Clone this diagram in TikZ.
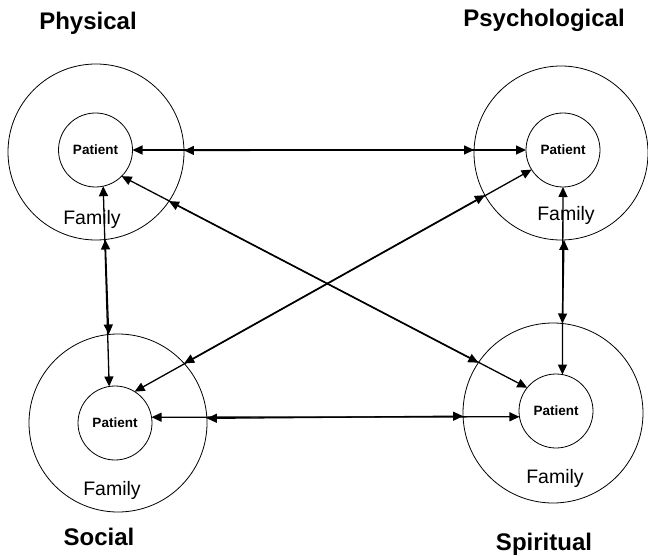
\documentclass[tikz,border=0pt]{standalone}
\usepackage{fontspec}
\setmainfont{Liberation Sans}
\usetikzlibrary{arrows.meta}
\tikzset{
  ring/.style={draw,circle,line width=0.8pt,inner sep=0pt,outer sep=0pt},
  core/.style={draw,circle,line width=0.8pt,minimum size=74pt,inner sep=0pt,outer sep=0pt,font=\bfseries\fontsize{13.5}{15}\selectfont},
  headlbl/.style={anchor=base,font=\bfseries\fontsize{24}{28}\selectfont},
  fam/.style={anchor=base,font=\fontsize{19.5}{22}\selectfont},
  conn/.style={<->,line width=1.3pt}
}
\begin{document}
\begin{tikzpicture}[x=1pt,y=-1pt,>={Triangle[length=10pt,width=9pt]}]
		\useasboundingbox (0,0) rectangle (648,556);
		% the four domains
		\node[ring,minimum size=176pt] (physring) at (96,152) {};
		\node[ring,minimum size=174pt] (psyring) at (561,153) {};
		\node[ring,minimum size=178pt] (socring) at (118,423) {};
		\node[ring,minimum size=180pt] (spirring) at (553,413) {};
		\node[core] (physcore) at (95.5,150) {Patient};
		\node[core] (psycore) at (563,150) {Patient};
		\node[core] (soccore) at (115,423) {Patient};
		\node[core] (spircore) at (556,411) {Patient};
		\node[fam] (physfam) at (92,225) {Family};
		\node[fam] (psyfam) at (566,221) {Family};
		\node[fam] (socfam) at (112,495) {Family};
		\node[fam] (spirfam) at (555,483) {Family};
		\node[headlbl] (phys) at (88,30) {Physical};
		\node[headlbl] (psy) at (544,27) {Psychological};
		\node[headlbl] (soc) at (99,545) {Social};
		\node[headlbl] (spir) at (544,550) {Spiritual};
		% links between patients and between families
		\draw[conn] (physcore) -- (psycore);
		\draw[conn] (physring.1.3) -- (psyring.178);
		\draw[conn] (physcore.-78.5) -- (soccore.99);
		\draw[conn] (physring.-84.4) -- (socring.96.9);
		\draw[conn] (psycore.-90) -- (spircore.80.5);
		\draw[conn] (psyring.-88.7) -- (spirring.84);
		\draw[conn] (physcore.-45.5) -- (spircore.141);
		\draw[conn] (physring.-34.4) -- (spirring.146.3);
		\draw[conn] (soccore.58.8) -- (psycore.212.8);
		\draw[conn] (socring.42.4) -- (psyring.209.5);
		\draw[conn] (soccore.9.2) -- (spircore.189.2);
		\draw[conn] (socring.3.9) -- (spirring.182.5);
		%\draw (physring) -- (spirring);
\end{tikzpicture}
\end{document}
